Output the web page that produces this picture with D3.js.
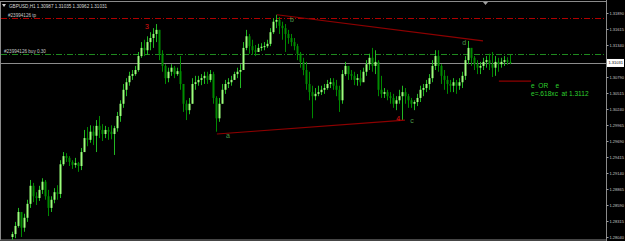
<!DOCTYPE html>
<html>
<head>
<meta charset="utf-8">
<script src="https://cdn.jsdelivr.net/npm/d3@7"></script>
<style>
  body { margin: 0; background: #000; }
  svg { display: block; font-family: "Liberation Sans", Arial, sans-serif; }
</style>
</head>
<body>
<svg width="625" height="241"></svg>
<script>
// bar data, GBPUSD H1 (open = previous close)
var highs = [1.2813,1.2830,1.2854,1.2847,1.2844,1.2868,1.2902,1.2897,1.2881,1.2892,
  1.2905,1.2902,1.2885,1.2874,1.2888,1.2893,1.2936,1.2950,1.2948,1.2943,
  1.2936,1.2940,1.2933,1.2957,1.2988,1.2993,1.2996,1.2995,1.3005,1.3012,
  1.2998,1.2995,1.2993,1.2996,1.2995,1.3019,1.3039,1.3067,1.3077,1.3088,
  1.3091,1.3098,1.3122,1.3139,1.3143,1.3149,1.3156,1.3163,1.3170,1.3160,
  1.3125,1.3101,1.3095,1.3101,1.3098,1.3095,1.3115,1.3064,1.3039,1.3043,
  1.3077,1.3081,1.3081,1.3084,1.3088,1.3088,1.3091,1.3088,1.3046,1.3043,
  1.3067,1.3074,1.3077,1.3081,1.3088,1.3095,1.3101,1.3139,1.3160,1.3153,
  1.3143,1.3134,1.3136,1.3137,1.3139,1.3143,1.3163,1.3180,1.3186,1.3182,
  1.3174,1.3170,1.3160,1.3153,1.3146,1.3136,1.3122,1.3112,1.3105,1.3088,
  1.3064,1.3060,1.3064,1.3064,1.3067,1.3074,1.3077,1.3077,1.3074,1.3064,
  1.3091,1.3105,1.3098,1.3091,1.3088,1.3084,1.3091,1.3095,1.3108,1.3119,
  1.3129,1.3125,1.3108,1.3081,1.3060,1.3057,1.3053,1.3050,1.3046,1.3057,
  1.3064,1.3060,1.3050,1.3043,1.3039,1.3050,1.3064,1.3067,1.3074,1.3084,
  1.3108,1.3125,1.3125,1.3101,1.3091,1.3081,1.3074,1.3077,1.3074,1.3077,
  1.3088,1.3115,1.3141,1.3129,1.3115,1.3108,1.3105,1.3112,1.3115,1.3119,
  1.3122,1.3115,1.3112,1.3112,1.3115,1.3113,1.3117];
var lows = [1.2799,1.2802,1.2820,1.2804,1.2813,1.2830,1.2854,1.2864,1.2859,1.2866,
  1.2878,1.2868,1.2840,1.2847,1.2862,1.2868,1.2871,1.2926,1.2933,1.2926,
  1.2921,1.2923,1.2916,1.2919,1.2950,1.2960,1.2966,1.2962,1.2950,1.2974,
  1.2969,1.2974,1.2971,1.2972,1.2945,1.2985,1.3002,1.3026,1.3046,1.3064,
  1.3074,1.3081,1.3088,1.3112,1.3115,1.3117,1.3125,1.3129,1.3139,1.3108,
  1.3088,1.3067,1.3070,1.3081,1.3077,1.3081,1.3057,1.3019,1.3005,1.3015,
  1.3033,1.3057,1.3064,1.3065,1.3067,1.3067,1.3070,1.3033,1.2985,1.3002,
  1.3033,1.3050,1.3060,1.3064,1.3074,1.3077,1.3060,1.3095,1.3125,1.3119,
  1.3117,1.3115,1.3122,1.3124,1.3125,1.3129,1.3132,1.3153,1.3163,1.3153,
  1.3143,1.3122,1.3136,1.3132,1.3125,1.3108,1.3095,1.3082,1.3057,1.3039,
  1.3008,1.3039,1.3046,1.3048,1.3050,1.3057,1.3060,1.3057,1.3046,1.3019,
  1.3033,1.3081,1.3074,1.3074,1.3065,1.3064,1.3064,1.3074,1.3081,1.3091,
  1.3088,1.3084,1.3046,1.3043,1.3043,1.3039,1.3033,1.3026,1.3022,1.3033,
  1.3005,1.3033,1.3026,1.3026,1.3022,1.3029,1.3036,1.3046,1.3053,1.3057,
  1.3070,1.3091,1.3088,1.3067,1.3057,1.3050,1.3053,1.3053,1.3050,1.3057,
  1.3060,1.3074,1.3101,1.3098,1.3091,1.3084,1.3084,1.3091,1.3095,1.3091,
  1.3079,1.3081,1.3088,1.3095,1.3098,1.3100,1.3101];
var closes = [1.2809,1.2823,1.2847,1.2820,1.2837,1.2861,1.2892,1.2874,1.2871,1.2885,
  1.2899,1.2874,1.2854,1.2868,1.2881,1.2878,1.2929,1.2943,1.2940,1.2933,
  1.2928,1.2931,1.2926,1.2950,1.2974,1.2971,1.2985,1.2978,1.2995,1.2988,
  1.2981,1.2988,1.2985,1.2981,1.2991,1.3012,1.3033,1.3057,1.3070,1.3081,
  1.3084,1.3091,1.3115,1.3129,1.3125,1.3139,1.3146,1.3153,1.3160,1.3119,
  1.3098,1.3077,1.3088,1.3095,1.3084,1.3089,1.3067,1.3033,1.3022,1.3033,
  1.3067,1.3070,1.3074,1.3077,1.3081,1.3074,1.3084,1.3043,1.3008,1.3033,
  1.3057,1.3067,1.3070,1.3074,1.3084,1.3088,1.3091,1.3129,1.3149,1.3132,
  1.3125,1.3122,1.3129,1.3131,1.3132,1.3136,1.3156,1.3174,1.3177,1.3167,
  1.3163,1.3153,1.3146,1.3139,1.3132,1.3119,1.3105,1.3091,1.3067,1.3053,
  1.3046,1.3050,1.3053,1.3057,1.3060,1.3067,1.3070,1.3064,1.3057,1.3039,
  1.3084,1.3098,1.3084,1.3081,1.3074,1.3077,1.3070,1.3088,1.3101,1.3112,
  1.3098,1.3105,1.3057,1.3050,1.3053,1.3046,1.3043,1.3033,1.3039,1.3046,
  1.3053,1.3046,1.3039,1.3033,1.3036,1.3043,1.3057,1.3060,1.3067,1.3077,
  1.3098,1.3115,1.3098,1.3081,1.3074,1.3067,1.3064,1.3070,1.3064,1.3070,
  1.3081,1.3108,1.3129,1.3112,1.3101,1.3095,1.3098,1.3105,1.3108,1.3101,
  1.3095,1.3105,1.3101,1.3105,1.3108,1.3105,1.3103];
var firstOpen = 1.2804;

// 1.31065 sits under the current-price box, so it is not shown
var priceTicks = [1.31890,1.31615,1.31340,1.30790,1.30515,1.30240,1.29965,
  1.29690,1.29415,1.29140,1.28865,1.28590,1.28315,1.28040];
var lastPrice = 1.31031;
var header = "GBPUSD,H1  1.30987 1.31035 1.30962 1.31031";

// order levels
var orderNames = ["#23994126 tp", "#23994126 buy 0.30"];
var orderPrices = [1.3180, 1.3119];
var orderColors = ["#b00000", "#1f8a1f"];

// trendlines [idx1, price1, idx2, price2]
var trendLines = [[88.3, 1.3186, 157, 1.3141], [68.3, 1.2981, 131, 1.3005], [162.3, 1.3072, 173, 1.3072]];

// wave labels
var waveText = ["3", "b", "d", "a", "4", "c"];
var waveIdx = [45, 93.3, 150.7, 72, 128.7, 133.3];
var wavePrice = [1.3165, 1.3177, 1.3139, 1.2978, 1.3007, 1.3005];
var waveColor = ["#e01010", "#4a9a4a", "#4a9a4a", "#4a9a4a", "#e01010", "#4a9a4a"];

var noteLines = ["e  OR    e", "e=.618xc  at 1.3112"];

var svg = d3.select("svg");
var W = 625, H = 241, axisX = 606;

var x = d3.scaleLinear().domain([0, closes.length - 1]).range([12, 510]);
var y = d3.scaleLinear().domain([1.28040, 1.31890]).range([237, 13]);

svg.append("rect").attr("width", W).attr("height", H).attr("fill", "#000");

// frame
svg.append("rect").attr("x", 0.5).attr("y", 1.5).attr("width", axisX).attr("height", 238.5)
  .attr("fill", "none").attr("stroke", "#8a8a8a");

// order lines
orderPrices.forEach(function (p, k) {
  svg.append("line")
    .attr("x1", 1).attr("x2", axisX)
    .attr("y1", Math.round(y(p)) + 0.5).attr("y2", Math.round(y(p)) + 0.5)
    .attr("stroke", orderColors[k]).attr("stroke-dasharray", "6,2,1,2");
  svg.append("text")
    .attr("x", k == 0 ? 8 : 4).attr("y", Math.round(y(p)) - 1.5)
    .attr("font-size", 4.6).attr("fill", "#c8c8c8")
    .text(orderNames[k]);
});

// current price line
svg.append("line")
  .attr("x1", 1).attr("x2", axisX)
  .attr("y1", Math.round(y(lastPrice)) + 0.5).attr("y2", Math.round(y(lastPrice)) + 0.5)
  .attr("stroke", "#8c8c8c");

// candles
var bars = closes.map(function (c, i) {
  return { i: i, o: i == 0 ? firstOpen : closes[i - 1], h: highs[i], l: lows[i], c: c };
});
var g = svg.append("g");
g.selectAll("line").data(bars).enter().append("line")
  .attr("x1", d => Math.round(x(d.i)) + 0.5).attr("x2", d => Math.round(x(d.i)) + 0.5)
  .attr("y1", d => y(d.h)).attr("y2", d => y(d.l))
  .attr("stroke", d => d.c >= d.o ? "#22b822" : "#008a00");
g.selectAll("rect").data(bars).enter().append("rect")
  .attr("x", d => Math.round(x(d.i)) - 0.5)
  .attr("width", 2)
  .attr("y", d => Math.min(y(d.o), y(d.c)))
  .attr("height", d => Math.max(1, Math.abs(y(d.o) - y(d.c))))
  .attr("fill", d => d.c >= d.o ? "#9cff7c" : "#008c00");

// trendlines
trendLines.forEach(function (t) {
  svg.append("line")
    .attr("x1", x(t[0])).attr("y1", y(t[1]))
    .attr("x2", x(t[2])).attr("y2", y(t[3]))
    .attr("stroke", "#8e0000").attr("stroke-width", 1.2);
});

// wave labels
svg.selectAll(".wave").data(waveText).enter().append("text")
  .attr("class", "wave")
  .attr("x", (d, k) => x(waveIdx[k])).attr("y", (d, k) => y(wavePrice[k]))
  .attr("text-anchor", "middle").attr("dominant-baseline", "central")
  .attr("font-size", 7).attr("fill", (d, k) => waveColor[k])
  .text(d => d);

// note
svg.selectAll(".note").data(noteLines).enter().append("text")
  .attr("class", "note")
  .attr("x", 531).attr("y", (d, k) => 88 + k * 7.5)
  .attr("font-size", 6.6).attr("fill", "#2ed02e")
  .attr("xml:space", "preserve").style("white-space", "pre")
  .text(d => d);

// header
svg.append("path").attr("d", "M2,4 L6,4 L4,7 Z").attr("fill", "#d0d0d0");
svg.append("text").attr("x", 9).attr("y", 8)
  .attr("font-size", 4.6).attr("fill", "#d8d8d8")
  .text(header);

// shift marker
svg.append("path").attr("d", "M483,2 L488,2 L485.5,5 Z").attr("fill", "#a0a0a0");

// price axis
var axis = svg.append("g")
  .attr("transform", "translate(" + (axisX + 0.5) + ",0)")
  .call(d3.axisRight(y).tickValues(priceTicks).tickSize(2).tickPadding(1)
    .tickFormat(d3.format(".5f")));
axis.select(".domain").attr("stroke", "#8a8a8a").attr("d", "M0,0V241");
axis.selectAll(".tick line").attr("stroke", "#a0a0a0");
axis.selectAll(".tick text").attr("fill", "#c8c8c8").attr("font-size", 4)
  .attr("font-family", "Liberation Sans, Arial, sans-serif");

// current price box
svg.append("rect").attr("x", axisX + 1).attr("y", y(lastPrice) - 4)
  .attr("width", 17).attr("height", 8).attr("fill", "#fff");
svg.append("text").attr("x", axisX + 2.5).attr("y", y(lastPrice) + 1.5)
  .attr("font-size", 4).attr("fill", "#000")
  .text(d3.format(".5f")(lastPrice));
</script>
</body>
</html>
